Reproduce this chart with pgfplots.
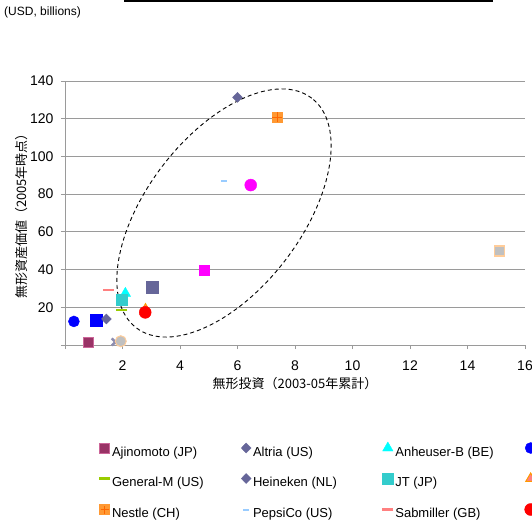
\documentclass[border=0pt]{standalone}
\usepackage{fontspec}
\setmainfont{Liberation Sans}
\newfontfamily\cjk{Noto Sans CJK JP}
\usepackage{pgfplots}
\pgfplotsset{compat=1.18}
\usetikzlibrary{plotmarks}
\definecolor{cAji}{HTML}{993366}
\definecolor{cAjiB}{HTML}{CC6699}
\definecolor{cSlate}{HTML}{666699}
\definecolor{cCyan}{HTML}{00FFFF}
\definecolor{cGM}{HTML}{99CC00}
\definecolor{cJT}{HTML}{33CCCC}
\definecolor{cTriF}{HTML}{FF8080}
\definecolor{cTriB}{HTML}{FF9900}
\definecolor{cNes}{HTML}{FF9933}
\definecolor{cNesX}{HTML}{FF6600}
\definecolor{cPep}{HTML}{99CCFF}
\definecolor{cSab}{HTML}{FF8080}
\definecolor{cGray}{HTML}{C0C0C0}
\definecolor{cPeach}{HTML}{FFCC99}
\definecolor{cXg}{HTML}{8C8CB0}
\definecolor{cGrid}{HTML}{9A9A9A}
\definecolor{cMag}{HTML}{FF00FF}
\definecolor{cBlue}{HTML}{0000FF}
\definecolor{cRed}{HTML}{FF0000}
\newcommand{\lt}[1]{\makebox[127.3pt][l]{#1}}
\pgfplotsset{nestleimg/.style={legend image code/.code={\draw[##1] plot coordinates {(0pt,4.5pt)};
    \draw[cNesX, line width=1.2pt] (-4pt,4.5pt) -- (4pt,4.5pt) (0pt,0.5pt) -- (0pt,8.5pt);}}}
\begin{document}
\begin{tikzpicture}
\path[use as bounding box, clip] (0,0) rectangle (532pt,522pt);
\begin{axis}[
  at={(65pt,177pt)}, anchor=south west,
  scale only axis, width=460pt, height=264pt,
  xmin=0, xmax=16, ymin=0, ymax=140,
  xtick={0,2,...,16}, xticklabels={,2,4,6,8,10,12,14,16},
  ytick={0,20,...,140}, yticklabels={,20,40,60,80,100,120,140},
  axis lines*=left,
  axis line style={cGrid, line width=0.8pt},
  ymajorgrids, grid style={cGrid, line width=0.8pt},
  tick style={cGrid, line width=0.8pt},
  tick align=outside, major tick length=4pt,
  tick label style={font=\fontsize{14}{16}\selectfont},
  xticklabel style={yshift=-8pt},
  yticklabel style={xshift=-4pt},
  xlabel={\cjk 無形投資（2003-05年累計）},
  ylabel={\cjk 無形資産価値（2005年時点）},
  label style={font=\fontsize{13}{15}\selectfont},
  xlabel style={at={(axis description cs:0.5,-0.1477)}, anchor=center},
  ylabel style={at={(axis description cs:-0.0935,0.5)}, anchor=center},
  legend image code/.code={\draw[#1] plot coordinates {(0pt,4.5pt)};},
  legend style={at={(axis description cs:0,0)}, anchor=north west,
    xshift=34pt, yshift=-97pt, draw=none, fill=none, inner sep=0pt, outer sep=0pt,
    legend columns=4, row sep=12pt,
    font=\fontsize{13}{15}\selectfont,
    nodes={inner sep=2pt, text height=10pt, text depth=3pt},
    /tikz/every even column/.append style={column sep=0pt}},
  legend cell align=left,
]
% series without a visible legend entry
\addplot[only marks, mark=square*, mark size=6pt, mark options={draw=cBlue, fill=cBlue}, forget plot] coordinates {(1.08,13.3)};
\addplot[only marks, mark=square*, mark size=5pt, mark options={draw=cMag, fill=cMag}, forget plot] coordinates {(4.85,39.6)};
\addplot[only marks, mark=*, mark size=6pt, mark options={draw=cMag, fill=cMag}, forget plot] coordinates {(6.46,84.8)};
\addplot[only marks, mark=square*, mark size=5pt, mark options={draw=cPeach, fill=cGray, line width=1.5pt}, forget plot] coordinates {(15.12,49.8)};
\addplot[only marks, mark=square*, mark size=6pt, mark options={draw=cSlate, fill=cSlate}, forget plot] coordinates {(3.04,30.8)};
\addplot[only marks, mark=x, mark size=5pt, mark options={draw=cXg, line width=2.5pt}, forget plot] coordinates {(1.75,1.6)};
\addplot[only marks, mark=*, mark size=5.5pt, mark options={draw=cPeach, fill=cGray, line width=1pt}, forget plot] coordinates {(1.94,2.0)};
% legend series
\addplot[only marks, mark=square*, mark size=5pt, mark options={draw=cAjiB, fill=cAji, line width=0.8pt}] coordinates {(0.80,1.6)};
\addlegendentry{\lt{Ajinomoto (JP)}}
\addplot[only marks, mark=diamond*, mark size=5pt, mark options={draw=cSlate, fill=cSlate, xscale=1.3}] coordinates {(6.0,131.3)};
\addlegendentry{\lt{Altria (US)}}
\addplot[only marks, mark=triangle*, mark size=6pt, mark options={draw=cCyan, fill=cCyan}] coordinates {(2.10,27.4)};
\addlegendentry{\lt{Anheuser-B (BE)}}
\addplot[only marks, mark=*, mark size=5.5pt, mark options={draw=cBlue, fill=cBlue}] coordinates {(0.31,12.5)};
\addlegendentry{\lt{}}
\addplot[only marks, mark=-, mark size=5.5pt, mark options={draw=cGM, line width=2.5pt}] coordinates {(1.98,18.6)};
\addlegendentry{\lt{General-M (US)}}
\addplot[only marks, mark=diamond*, mark size=5pt, mark options={draw=cSlate, fill=cSlate, xscale=1.3}] coordinates {(1.44,13.8)};
\addlegendentry{\lt{Heineken (NL)}}
\addplot[only marks, mark=square*, mark size=5.5pt, mark options={draw=cJT, fill=cJT}] coordinates {(1.96,24.2)};
\addlegendentry{\lt{JT (JP)}}
\addplot[only marks, mark=triangle*, mark size=5.5pt, mark options={draw=cTriB, fill=cTriF, line width=1pt}] coordinates {(2.8,19.0)};
\addlegendentry{\lt{}}
\addplot[only marks, mark=square*, mark size=5pt, mark options={draw=cNes, fill=cNes}, nestleimg] coordinates {(7.39,120.7)};
\addlegendentry{\lt{Nestle (CH)}}
\addplot[only marks, mark=-, mark size=3pt, mark options={draw=cPep, line width=2pt}] coordinates {(5.52,87.1)};
\addlegendentry{\lt{PepsiCo (US)}}
\addplot[only marks, mark=-, mark size=5.5pt, mark options={draw=cSab, line width=2.5pt}] coordinates {(1.51,29.2)};
\addlegendentry{\lt{Sabmiller (GB)}}
\addplot[only marks, mark=*, mark size=6pt, mark options={draw=cRed, fill=cRed}] coordinates {(2.79,17.3)};
\addlegendentry{\lt{}}
\addplot[only marks, mark=+, mark size=5pt, mark options={draw=cNesX, line width=1.5pt}, forget plot] coordinates {(7.39,120.7)};
% annotation ellipse
\draw[black, line width=0.9pt, dash pattern=on 4pt off 3pt, rotate around={52.6:(axis cs:5.53,70)}] (axis cs:5.53,70) ellipse [x radius=144.5pt, y radius=77.4pt];
\end{axis}
\fill (124pt,520pt) rectangle (493pt,522pt);
\node[anchor=west, inner sep=0pt, font=\fontsize{12}{14}\selectfont] at (4pt,510pt) {(USD, billions)};
\end{tikzpicture}
\end{document}
